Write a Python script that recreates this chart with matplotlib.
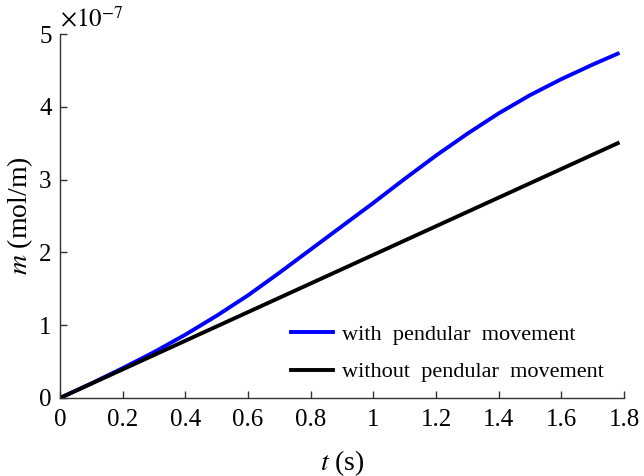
import matplotlib
matplotlib.use("Agg")
import matplotlib.pyplot as plt
from matplotlib.ticker import FuncFormatter
import numpy as np

t_with = [0, 0.1, 0.2, 0.3, 0.4, 0.5, 0.6, 0.7, 0.8, 0.9, 1.0, 1.1, 1.2, 1.3, 1.4, 1.5, 1.6, 1.7, 1.78]
m_with = [0, 0.20, 0.41, 0.63, 0.87, 1.13, 1.41, 1.72, 2.04, 2.36, 2.68, 3.01, 3.33, 3.63, 3.91, 4.16, 4.38, 4.58, 4.73]
t_without = [0, 1.78]
m_without = [0, 3.50]
scale = 1e-7
xticks = [0, 0.2, 0.4, 0.6, 0.8, 1.0, 1.2, 1.4, 1.6, 1.8]
yticks = [0, 1, 2, 3, 4, 5]

plt.rcParams['font.family'] = ['Liberation Serif', 'DejaVu Serif']
plt.rcParams['mathtext.fontset'] = 'stix'

fig = plt.figure(figsize=(6.44, 4.76), dpi=100)
ax = fig.add_axes([60/644, 1-398/476, 564/644, 364/476])

ax.plot(t_with, np.array(m_with)*scale, color='#0000ff', lw=2.8, label='with  pendular  movement')
ax.plot(t_without, np.array(m_without)*scale, color='black', lw=2.8, label='without  pendular  movement')

ax.set_xlim(0, 1.8)
ax.set_ylim(0, 5e-7)
ax.set_xticks(xticks)
ax.set_yticks(np.array(yticks)*scale)
ax.xaxis.set_major_formatter(FuncFormatter(lambda v, p: '%g' % v))
ax.yaxis.set_major_formatter(FuncFormatter(lambda v, p: '%g' % round(v/scale, 6)))

for s in ['top', 'right']:
    ax.spines[s].set_visible(False)
for s in ['left', 'bottom']:
    ax.spines[s].set_color('#333333')
    ax.spines[s].set_linewidth(1.0)
ax.tick_params(direction='in', length=5, width=1.0, color='#333333', labelsize=18)
ax.tick_params(axis='x', pad=8)
ax.tick_params(axis='y', pad=6)

fig.text(60/644, 1-20/476, r'$\times10^{-7}$', fontsize=18, ha='left', va='center')

ax.set_xlabel(r'$t$ (s)', fontsize=20, labelpad=12)
ax.set_ylabel(r'$m$ (mol/m)', fontsize=20, labelpad=3)

leg = ax.legend(loc='lower right', bbox_to_anchor=(0.992, 0.0), frameon=False, fontsize=16,
                handlelength=1.9, handletextpad=0.4, labelspacing=0.75, borderaxespad=0.3)

fig.savefig('out.png', dpi=100)
